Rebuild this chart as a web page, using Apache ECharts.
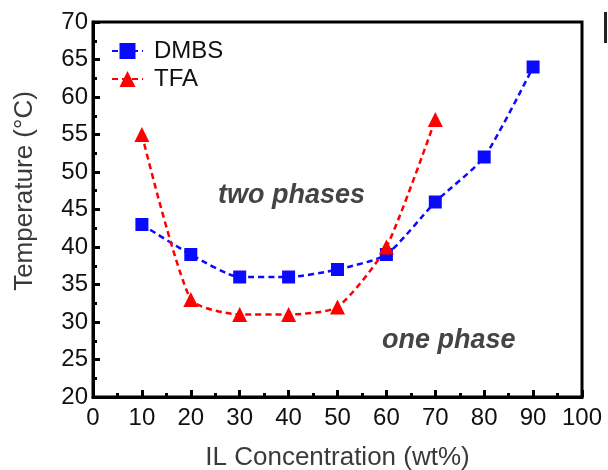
<!DOCTYPE html>
<html>
<head>
<meta charset="utf-8">
<script src="https://cdn.jsdelivr.net/npm/echarts@6/dist/echarts.min.js"></script>
<style>
  html, body { margin: 0; padding: 0; background: #fff; }
  #chart { width: 608px; height: 470px; }
</style>
</head>
<body>
<div id="chart"></div>
<script>
// IL concentration (wt%) and cloud-point temperatures (°C)
const dmbsX = [10, 20, 30, 40, 50, 60, 70, 80, 90];
const dmbsT = [43, 39, 36, 36, 37, 39, 46, 52, 64];
const tfaX = [10, 20, 30, 40, 50, 60, 70];
const tfaT = [55, 33, 31, 31, 32, 40, 57];

const pairs = (xs, ys) => xs.map((x, i) => [x, ys[i]]);
const FONT = '"Liberation Sans", Arial, sans-serif';

const chart = echarts.init(document.getElementById('chart'), null, { renderer: 'canvas' });

const axisCommon = {
  axisLine: { show: true, onZero: false, lineStyle: { color: '#000', width: 3 } },
  axisTick: { show: true, inside: true, length: 7, lineStyle: { color: '#000', width: 3 } },
  minorTick: { show: true, splitNumber: 2, length: 4, lineStyle: { color: '#000', width: 3 } },
  splitLine: { show: false },
  axisLabel: { color: '#111', fontSize: 24, fontFamily: FONT }
};

chart.setOption({
  animation: false,
  grid: {
    left: 93, right: 26, top: 22, bottom: 73,
    outerBoundsMode: 'none', containLabel: false,
    show: true, borderColor: '#000', borderWidth: 3
  },
  legend: {
    left: 111, top: 39, padding: 0, orient: 'vertical', itemGap: 4, itemWidth: 31, itemHeight: 20,
    textStyle: { fontSize: 24, color: '#111', fontFamily: FONT, padding: [0, 0, 0, 6] },
    data: ['DMBS', 'TFA']
  },
  xAxis: Object.assign({}, axisCommon, {
    type: 'value', min: 0, max: 100, interval: 10,
    name: 'IL Concentration (wt%)', nameLocation: 'middle', nameGap: 48,
    nameTextStyle: { color: '#3a3a3a', fontSize: 26, fontFamily: FONT },
    axisLabel: Object.assign({}, axisCommon.axisLabel, { margin: 9 })
  }),
  yAxis: Object.assign({}, axisCommon, {
    type: 'value', min: 20, max: 70, interval: 5,
    axisLabel: Object.assign({}, axisCommon.axisLabel, { margin: 5 })
  }),
  series: [
    {
      name: 'DMBS', type: 'line', smooth: 0.2, data: pairs(dmbsX, dmbsT),
      symbol: 'rect', symbolSize: 13, itemStyle: { color: '#0a0aff' },
      lineStyle: { color: '#0a0aff', width: 2.5, type: [6, 4] }
    },
    {
      name: 'TFA', type: 'line', smooth: 0.2, data: pairs(tfaX, tfaT),
      symbol: 'triangle', symbolSize: 15, itemStyle: { color: '#ff0000' },
      lineStyle: { color: '#ff0000', width: 2.5, type: [6, 4] }
    }
  ],
  graphic: [
    {
      // y-axis title
      type: 'text', x: 25, y: 191, rotation: Math.PI / 2,
      style: { text: 'Temperature (°C)', fill: '#3a3a3a', font: '26px ' + FONT, align: 'center', verticalAlign: 'middle' }
    },
    {
      type: 'text', x: 218, y: 196,
      style: { text: 'two phases', fill: '#444', font: 'italic bold 27px ' + FONT, verticalAlign: 'middle' }
    },
    {
      type: 'text', x: 382, y: 341,
      style: { text: 'one phase', fill: '#444', font: 'italic bold 27px ' + FONT, verticalAlign: 'middle' }
    },
    {
      // edge of the neighbouring panel letter
      type: 'rect', shape: { x: 604, y: 12, width: 3, height: 31 }, style: { fill: '#222' }
    }
  ]
});
</script>
</body>
</html>
